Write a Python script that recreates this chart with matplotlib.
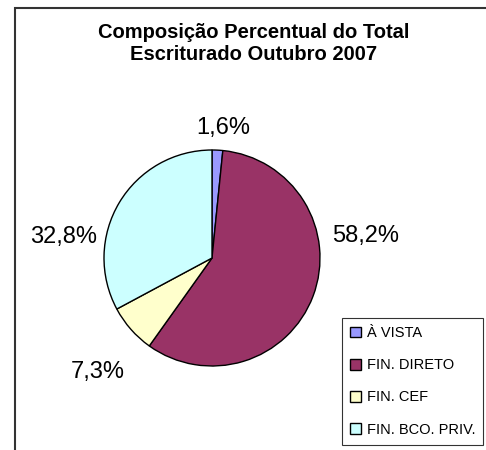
import matplotlib
matplotlib.use('Agg')
import matplotlib.pyplot as plt
from matplotlib.patches import Rectangle

plt.rcParams['font.family'] = ['Liberation Sans', 'DejaVu Sans']

# data
categories = ["À VISTA", "FIN. DIRETO", "FIN. CEF", "FIN. BCO. PRIV."]
shares = [1.6, 58.2, 7.3, 32.8]
labels = ["1,6%", "58,2%", "7,3%", "32,8%"]
colors = ["#9999FF", "#993366", "#FFFFCC", "#CCFFFF"]
title = "Composição Percentual do Total\nEscriturado Outubro 2007"

# label spots (in pie radius units), Excel "best fit" style
label_pos = [(0.10, 1.20), (1.42, 0.20), (-1.06, -1.06), (-1.37, 0.19)]

W, H = 486, 450
fig = plt.figure(figsize=(W / 100, H / 100), dpi=100)

# chart frame (right and bottom run off the picture)
frame = Rectangle((14.5 / W, -0.1), 1.2, (H - 7.5) / H + 0.1,
                  transform=fig.transFigure, fill=False,
                  edgecolor="#333333", linewidth=1.5, clip_on=False)
fig.patches.append(frame)

fig.text(254 / W, 1 - 43 / H, title, ha="center", va="center",
         fontsize=14.5, fontweight="bold", linespacing=1.2)

cx, cy, r = 212, 258, 108
ax = fig.add_axes([(cx - r) / W, (H - cy - r) / H, 2 * r / W, 2 * r / H])
wedges, _ = ax.pie(shares, colors=colors, startangle=90, counterclock=False,
                   radius=1, wedgeprops=dict(edgecolor="black", linewidth=1.0))
ax.set_xlim(-1, 1)
ax.set_ylim(-1, 1)
ax.axis("off")

for lab, (x, y) in zip(labels, label_pos):
    ax.text(x, y, lab, ha="center", va="center", fontsize=17, clip_on=False)

leg = fig.legend(wedges, categories, loc="upper left",
                 bbox_to_anchor=(342 / W, 1 - 318 / H),
                 fontsize=10.5, frameon=True, fancybox=False,
                 edgecolor="black", handlelength=0.75, handleheight=0.75,
                 handletextpad=0.4, labelspacing=1.25, borderpad=0.55,
                 borderaxespad=0)
leg.get_frame().set_linewidth(0.8)

fig.savefig("out.png", dpi=100)
